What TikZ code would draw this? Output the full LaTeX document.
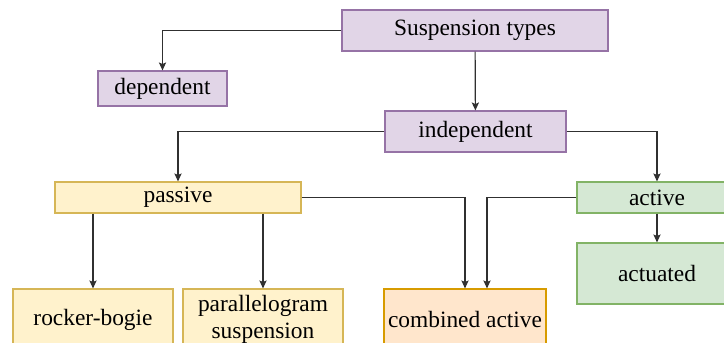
\documentclass[tikz,border=0pt]{standalone}
\usepackage{fontspec}
\setmainfont{Liberation Serif}
\usepackage{tikz}
\usetikzlibrary{arrows.meta,calc}
\definecolor{LilacFill}{HTML}{E1D5E7}
\definecolor{LilacLine}{HTML}{9673A6}
\definecolor{SandFill}{HTML}{FFF2CC}
\definecolor{SandLine}{HTML}{D6B656}
\definecolor{SageFill}{HTML}{D5E8D4}
\definecolor{SageLine}{HTML}{82B366}
\definecolor{PeachFill}{HTML}{FFE6CC}
\definecolor{PeachLine}{HTML}{D79B00}
\definecolor{Charcoal}{HTML}{303030}

\begin{document}
\begin{tikzpicture}[
  x=.5pt, y=-.5pt,
  font=\fontsize{11.7}{13.5}\selectfont,
  box/.style={draw, line width=.55pt, align=center, inner sep=2pt},
  lilac/.style={box, fill=LilacFill, draw=LilacLine},
  sand/.style={box, fill=SandFill, draw=SandLine},
  sage/.style={box, fill=SageFill, draw=SageLine},
  peach/.style={box, fill=PeachFill, draw=PeachLine},
  link/.style={-{Stealth[length=4pt,width=3.6pt,inset=.8pt]}, line width=.6pt, draw=Charcoal}
]
\useasboundingbox (0,0) rectangle (724,343);
\clip (0,0) rectangle (724,343);

% Top of the tree.
\node[lilac, minimum width=133pt, minimum height=20.5pt] (types) at (475,30.5) {Suspension types};
\node[lilac, minimum width=64.5pt, minimum height=17.5pt] (dependent) at (162.5,88.5) {dependent};
\node[lilac, minimum width=90.5pt, minimum height=20.5pt] (independent) at (475.5,131.5) {independent};

% Second level.
\node[sand, minimum width=123pt, minimum height=15.5pt] (passive) at (178,197.5) {passive};
\node[sage, minimum width=80pt, minimum height=15.5pt] (active) at (657,197.5) {active};

% Leaves (cut off at the lower edge).
\node[sand, minimum width=80pt, minimum height=30.5pt] (rocker) at (93,319.5) {rocker-bogie};
\node[sand, minimum width=80pt, minimum height=30.5pt] (parallel) at (263,319.5) {parallelogram\\suspension};
\node[peach, minimum width=80pt, minimum height=30.5pt] (combined) at (465,319.5) {combined active};
\node[sage, minimum width=80pt, minimum height=30.5pt] (actuated) at (657,273.5) {actuated};

\draw[link] (types.west) -| (dependent.north);
\draw[link] (types) -- (independent);
\draw[link] (independent.west) -| (passive.north);
\draw[link] (independent.east) -| (active.north);
\draw[link] (passive.south -| rocker.north) -- (rocker.north);
\draw[link] (passive.south -| parallel.north) -- (parallel.north);
\draw[link] (passive.east) -| (combined.north);
\draw[link] (active.west) -| ($(combined.north)+(22,0)$);
\draw[link] (active) -- (actuated);
\end{tikzpicture}
\end{document}
